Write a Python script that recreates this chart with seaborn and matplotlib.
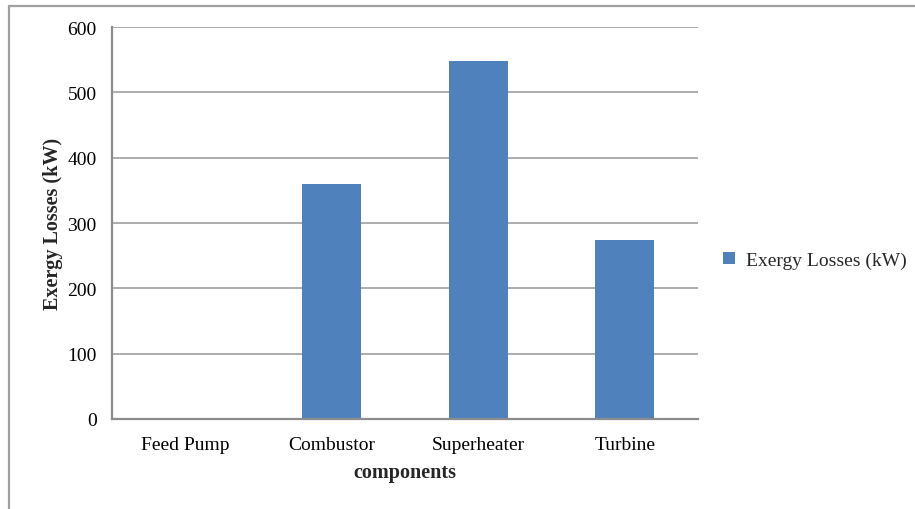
import matplotlib
matplotlib.use("Agg")
import matplotlib.pyplot as plt
from matplotlib.lines import Line2D
from matplotlib.patches import Patch
import seaborn as sns
import pandas as pd

components = ["Feed Pump", "Combustor", "Superheater", "Turbine"]
exergy_losses = [0, 360, 548, 274]
series_name = "Exergy Losses (kW)"
y_ticks = [0, 100, 200, 300, 400, 500, 600]

sns.set_theme(style="white")
plt.rcParams["font.family"] = ["Liberation Serif", "DejaVu Serif"]

bar_color = "#4F81BD"
grid_color = "#A6A6A6"
axis_color = "#8C8C8C"

df = pd.DataFrame({"component": components, "loss": exergy_losses})

fig = plt.figure(figsize=(9.15, 5.1), dpi=100)
ax = fig.add_axes([0.1224, 0.1765, 0.6404, 0.7685])

sns.barplot(data=df, x="component", y="loss", color=bar_color, width=0.4,
            saturation=1, linewidth=0, edgecolor=bar_color, ax=ax, zorder=3)

ax.set_ylim(0, 600)
ax.set_yticks(y_ticks)
ax.set_xlim(-0.5, len(components) - 0.5)
ax.yaxis.grid(True, color=grid_color, linewidth=1.3, zorder=0)
ax.xaxis.grid(False)
ax.set_axisbelow(True)

for side in ["top", "right"]:
    ax.spines[side].set_visible(False)
for side in ["left", "bottom"]:
    ax.spines[side].set_color(axis_color)
    ax.spines[side].set_linewidth(1.6)
    ax.spines[side].set_zorder(4)

# tick marks sit at the category boundaries
ax.set_xticks([i - 0.5 for i in range(len(components) + 1)], minor=True)
ax.tick_params(axis="x", which="major", length=0, pad=12, labelsize=14, labelcolor="black")
ax.tick_params(axis="x", which="minor", length=5, width=1.3, color=axis_color, direction="out")
ax.tick_params(axis="y", which="major", length=5, width=1.3, color=axis_color, direction="out",
               pad=6, labelsize=14, labelcolor="black")

ax.set_xlabel("components", fontsize=14.5, fontweight="bold", labelpad=7)
ax.set_ylabel("Exergy Losses (kW)", fontsize=14.5, fontweight="bold", labelpad=3)

handle = Patch(facecolor=bar_color, edgecolor="none")
fig.legend([handle], [series_name], loc="center left", bbox_to_anchor=(0.78, 0.488),
           frameon=False, fontsize=14, handlelength=0.62, handleheight=0.62,
           handletextpad=0.55, borderpad=0)

# outer chart frame (top and left edges)
frame_color = "#A0A0A0"
fig.add_artist(Line2D([9 / 915, 1.0], [1 - 7 / 510, 1 - 7 / 510], transform=fig.transFigure,
                      color=frame_color, linewidth=1.6))
fig.add_artist(Line2D([9 / 915, 9 / 915], [0.0, 1 - 7 / 510], transform=fig.transFigure,
                      color=frame_color, linewidth=1.6))

fig.savefig("out.png", dpi=100, facecolor="white")
